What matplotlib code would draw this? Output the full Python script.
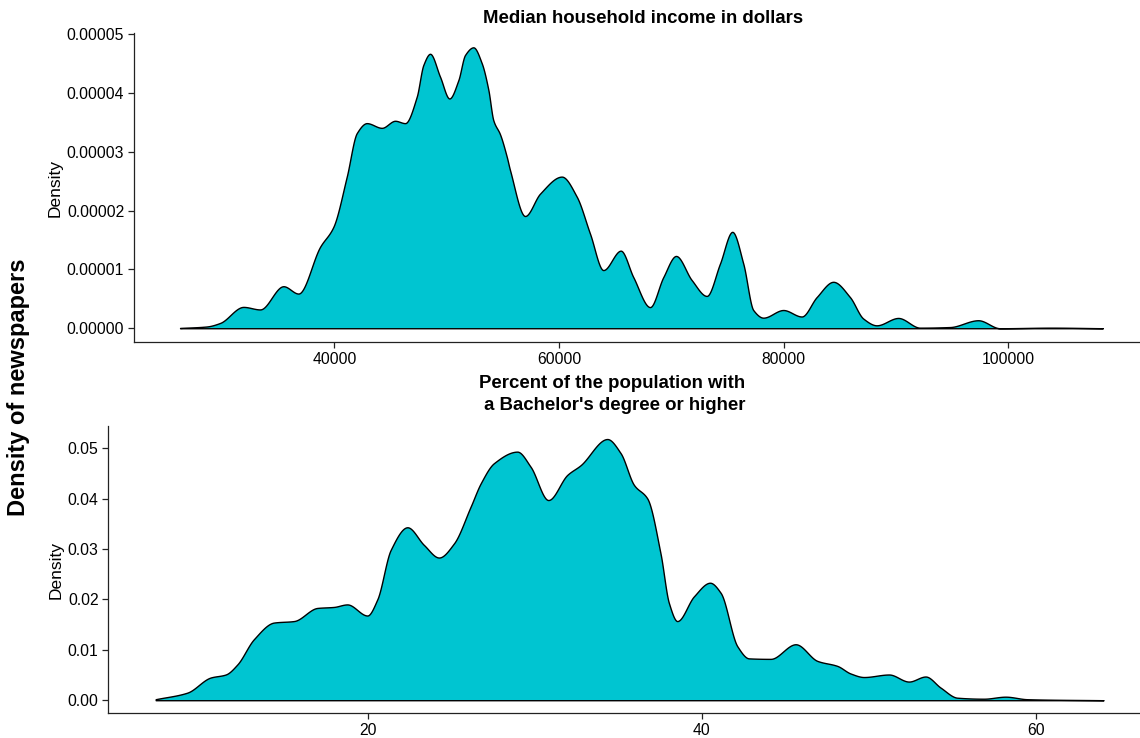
import numpy as np
import matplotlib
matplotlib.use("Agg")
import matplotlib.pyplot as plt
from matplotlib.ticker import FormatStrFormatter

plt.rcParams['font.family'] = ['Liberation Sans', 'DejaVu Sans']

# median household income density
income_x = [26264, 28641, 29825, 31899, 33386, 35460, 36795, 38727, 39911,
            41104, 41994, 42884, 44220, 45404, 46294, 47335, 47923, 48519,
            49409, 50237, 51038, 51635, 52374, 53122, 53709, 54154, 54751,
            55347, 55641, 56976, 58311, 60243, 61578,
            62762, 63946, 65495, 66617, 68104, 69288, 70418, 71816, 73151,
            74335, 75430, 76409, 77299, 78190, 79970, 81608, 82944, 84421,
            85908, 87092, 88285, 90207, 92139, 94810, 97329, 99261, 103863,
            108429]
income_d = [0.005, 0.03, 0.09, 0.363, 0.32, 0.715, 0.59, 1.385, 1.725,
            2.58, 3.32, 3.49, 3.41, 3.53, 3.49, 3.94, 4.48, 4.67,
            4.28, 3.91, 4.22, 4.65, 4.78, 4.51, 4.06, 3.54, 3.30,
            2.92, 2.69, 1.91, 2.29, 2.58, 2.24,
            1.61, 0.99, 1.32, 0.87, 0.36, 0.87, 1.23, 0.82, 0.55,
            1.10, 1.64, 1.10, 0.31, 0.18, 0.31, 0.20, 0.53, 0.79,
            0.53, 0.165, 0.05, 0.175, 0.01, 0.02, 0.136, 0.0, 0.01,
            0.0]
income_d = [d * 1e-5 for d in income_d]

# percent with bachelor's degree density
bach_x = [7.31, 9.20, 10.60, 11.50, 12.20, 13.19, 14.39, 15.59, 16.99,
          17.98, 18.78, 19.98, 20.58, 21.38, 22.38, 23.37, 24.27, 25.17,
          26.17, 26.77, 27.56, 28.96, 29.76, 30.82, 31.96, 32.75, 34.35,
          35.15, 35.95, 36.75, 37.54, 38.04, 38.54, 39.54, 40.50, 41.14,
          42.14, 42.83, 44.13, 45.63, 46.93, 48.13, 48.92, 49.72, 51.22,
          52.41, 53.41, 54.31, 55.31, 56.90, 58.20, 59.50, 64.07]
bach_d = [0.0002, 0.0015, 0.0045, 0.0051, 0.0071, 0.0121, 0.0154, 0.0157, 0.0183,
          0.0185, 0.0190, 0.0168, 0.0200, 0.0298, 0.0343, 0.0308, 0.0283, 0.0311,
          0.0384, 0.0430, 0.0470, 0.0493, 0.0463, 0.0397, 0.0447, 0.0466, 0.0518,
          0.0490, 0.0427, 0.0400, 0.0291, 0.0193, 0.0157, 0.0206, 0.0233, 0.0213,
          0.0107, 0.0083, 0.0082, 0.0111, 0.0078, 0.0068, 0.0053, 0.0046, 0.0051,
          0.0037, 0.0047, 0.0025, 0.0005, 0.0003, 0.0007, 0.0002, 0.0]

income_ticks = [40000, 60000, 80000, 100000]
income_yticks = [0, 1e-5, 2e-5, 3e-5, 4e-5, 5e-5]
bach_ticks = [20, 40, 60]
bach_yticks = [0, 0.01, 0.02, 0.03, 0.04, 0.05]

fill_col = '#00C5D1'
dark = '#222222'


def smooth_path(x, y, n=30):
    # draw the read points with a monotone cubic (pchip style) so peaks look round
    h = np.diff(x)
    delta = np.diff(y) / h
    m = np.zeros_like(y)
    m[0], m[-1] = delta[0], delta[-1]
    for k in range(1, len(x) - 1):
        if delta[k - 1] * delta[k] > 0:
            w1 = 2 * h[k] + h[k - 1]
            w2 = h[k] + 2 * h[k - 1]
            m[k] = (w1 + w2) / (w1 / delta[k - 1] + w2 / delta[k])
    xs, ys = [], []
    t = np.linspace(0, 1, n, endpoint=False)
    for k in range(len(x) - 1):
        h00 = 2 * t**3 - 3 * t**2 + 1
        h10 = t**3 - 2 * t**2 + t
        h01 = -2 * t**3 + 3 * t**2
        h11 = t**3 - t**2
        xs.append(x[k] + t * h[k])
        ys.append(h00 * y[k] + h10 * h[k] * m[k] + h01 * y[k + 1] + h11 * h[k] * m[k + 1])
    xs.append([x[-1]])
    ys.append([y[-1]])
    return np.concatenate(xs), np.clip(np.concatenate(ys), 0, None)


def density_panel(ax, x, d, xticks, yticks, fmt):
    x = np.array(x, dtype=float)
    d = np.array(d, dtype=float)
    sx, sy = smooth_path(x, d)
    ax.fill_between(sx, 0, sy, facecolor=fill_col, edgecolor='black', lw=1.0)
    # ggplot-like 5% expansion
    xr = x.max() - x.min()
    ax.set_xlim(x.min() - 0.05 * xr, x.max() + 0.05 * xr)
    ax.set_ylim(-0.05 * d.max(), 1.05 * d.max())
    ax.set_xticks(xticks)
    ax.set_yticks(yticks)
    ax.yaxis.set_major_formatter(FormatStrFormatter(fmt))
    for s in ['top', 'right']:
        ax.spines[s].set_visible(False)
    for s in ['left', 'bottom']:
        ax.spines[s].set_color(dark)
        ax.spines[s].set_linewidth(0.9)
    ax.tick_params(axis='both', length=4, width=0.9, color=dark,
                   labelsize=11.3, labelcolor='black', pad=3)
    ax.set_ylabel('Density', fontsize=12.5, labelpad=3)


fig = plt.figure(figsize=(11.4, 7.38), dpi=100)

ax1 = fig.add_axes([0.1175, 0.5362, 0.8904, 0.4187])
density_panel(ax1, income_x, income_d, income_ticks, income_yticks, '%.5f')

ax2 = fig.add_axes([0.095, 0.0335, 0.9146, 0.3893])
density_panel(ax2, bach_x, bach_d, bach_ticks, bach_yticks, '%.2f')

fig.text(0.564, 0.9756, 'Median household income in dollars',
         ha='center', va='center', fontsize=13.4, fontweight='bold')
fig.text(0.537, 0.4654, "Percent of the population with\n a Bachelor's degree or higher",
         ha='center', va='center', fontsize=13.4, fontweight='bold', linespacing=1.35)
fig.text(0.016, 0.475, 'Density of newspapers', rotation=90,
         ha='center', va='center', fontsize=17, fontweight='bold')

fig.savefig('out.png', dpi=100)
